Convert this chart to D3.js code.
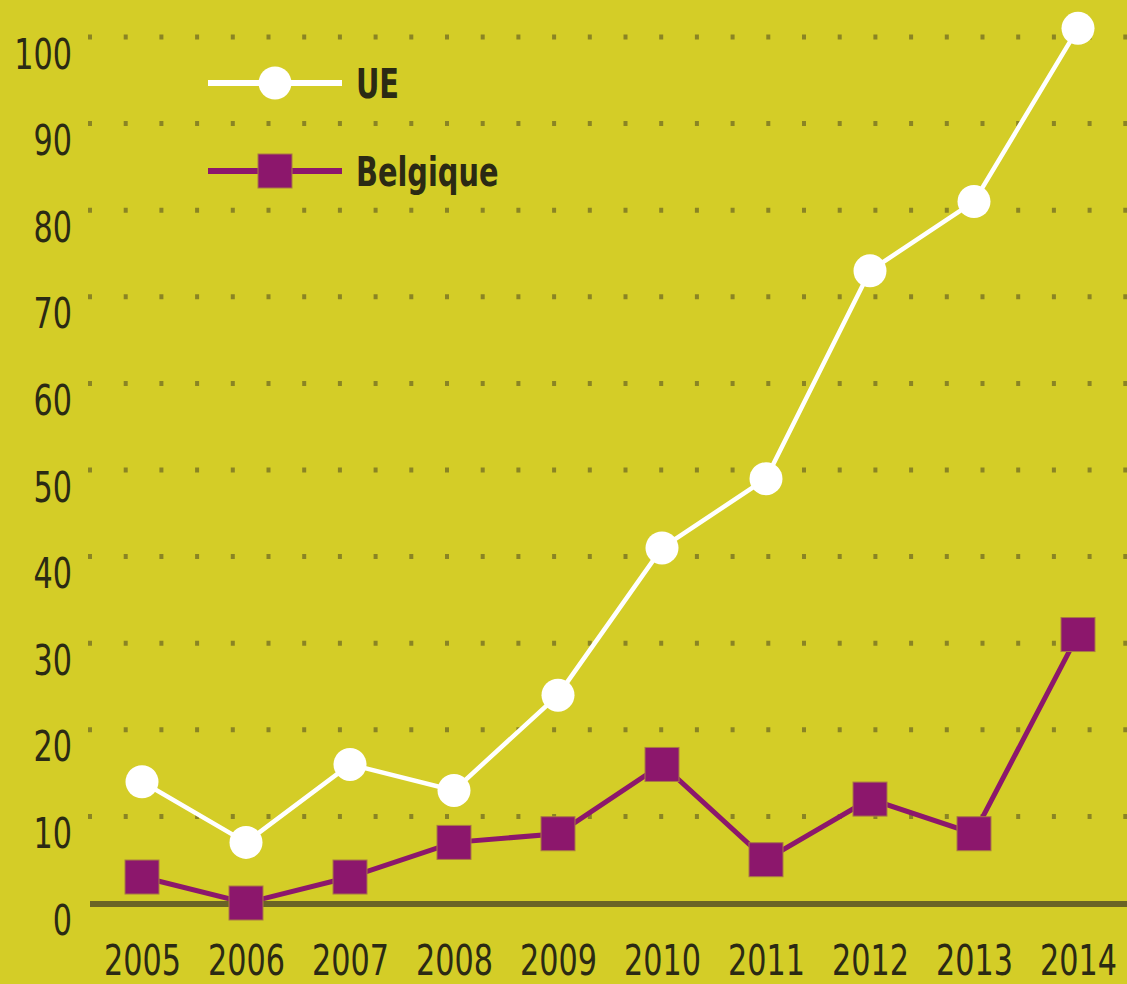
<!DOCTYPE html>
<html>
<head>
<meta charset="utf-8">
<script src="https://cdn.jsdelivr.net/npm/d3@7"></script>
<style>
  html, body { margin: 0; padding: 0; background: #d4cd27; }
  svg { display: block; }
  text { font-family: "Liberation Sans Narrow", "DejaVu Sans Condensed", "Roboto", sans-serif; fill: #2b2a14; }
</style>
</head>
<body>
<div id="chart-area"></div>
<script>
const years = [2005, 2006, 2007, 2008, 2009, 2010, 2011, 2012, 2013, 2014]
const ueValues = [14, 7, 16, 13, 24, 41, 49, 73, 81, 101]
const belgiqueValues = [3, 0, 3, 7, 8, 16, 5, 12, 8, 31]
const yTicks = [0, 10, 20, 30, 40, 50, 60, 70, 80, 90, 100]
const seriesNames = ["UE", "Belgique"]

function drawChart() {
    const svgWidth = 1127
    const svgHeight = 984
    const bg = "#d4cd27"
    const purple = "#8c176c"
    const squeeze = "scale(0.8,1)"   // condensed look of the original type

    const svg = d3.select("#chart-area")
      .append("svg")
      .attr("width", svgWidth)
      .attr("height", svgHeight)

    svg.append("rect")
        .attr("width", svgWidth)
        .attr("height", svgHeight)
        .attr("fill", bg)

    const xScale = d3.scaleLinear()
        .domain([2005, 2014])
        .range([142, 1078])

    const yScale = d3.scaleLinear()
        .domain([0, 100])
        .range([903, 37])

    // dotted gridlines
    svg.append("g")
      .selectAll("line")
      .data(yTicks.filter(d => d > 0))
      .join("line")
        .attr("x1", 88)
        .attr("x2", svgWidth)
        .attr("y1", d => yScale(d))
        .attr("y2", d => yScale(d))
        .attr("stroke", "#8a8424")
        .attr("stroke-width", 5)
        .attr("stroke-dasharray", "4 31.7")

    // zero line
    svg.append("line")
        .attr("x1", 90)
        .attr("x2", svgWidth)
        .attr("y1", yScale(0) + 1)
        .attr("y2", yScale(0) + 1)
        .attr("stroke", "#6a6325")
        .attr("stroke-width", 6)

    // y axis labels
    const yAxis = svg.append("g")
        .attr("transform", "translate(72,0)")
        .call(d3.axisLeft(yScale).tickValues(yTicks).tickSize(0).tickPadding(0))
    yAxis.select(".domain").remove()
    yAxis.selectAll("text")
        .attr("dy", "31")
        .attr("font-size", 42)
        .attr("font-family", null)
        .attr("fill", "#2b2a14")
        .attr("transform", squeeze)

    // x axis labels
    const xAxis = svg.append("g")
        .attr("transform", "translate(0,946)")
        .call(d3.axisBottom(xScale).tickValues(years).tickFormat(d3.format("d")).tickSize(0).tickPadding(0))
    xAxis.select(".domain").remove()
    xAxis.selectAll("text")
        .attr("dy", "29")
        .attr("y", 0)
        .attr("font-size", 42)
        .attr("font-family", null)
        .attr("fill", "#2b2a14")
        .attr("transform", squeeze)

    const lineGenerator = d3.line()
        .x((d, i) => xScale(years[i]))
        .y(d => yScale(d))

    // Belgique
    svg.append("path")
        .attr("d", lineGenerator(belgiqueValues))
        .attr("fill", "none")
        .attr("stroke", purple)
        .attr("stroke-width", 5)

    svg.append("g")
      .selectAll("rect")
      .data(belgiqueValues)
      .join("rect")
        .attr("x", (d, i) => xScale(years[i]) - 17)
        .attr("y", d => yScale(d) - 17)
        .attr("width", 34)
        .attr("height", 34)
        .attr("fill", purple)
        .attr("stroke", "#a97a45")
        .attr("stroke-width", 1)

    // UE
    svg.append("path")
        .attr("d", lineGenerator(ueValues))
        .attr("fill", "none")
        .attr("stroke", "white")
        .attr("stroke-width", 4.5)

    svg.append("g")
      .selectAll("circle")
      .data(ueValues)
      .join("circle")
        .attr("cx", (d, i) => xScale(years[i]))
        .attr("cy", d => yScale(d))
        .attr("r", 16.5)
        .attr("fill", "white")

    // legend
    const legend = svg.append("g")
    const legendY = [83, 171]

    legend.append("line")
        .attr("x1", 208).attr("x2", 342)
        .attr("y1", legendY[0]).attr("y2", legendY[0])
        .attr("stroke", "white").attr("stroke-width", 6)
    legend.append("circle")
        .attr("cx", 275).attr("cy", legendY[0]).attr("r", 16.5)
        .attr("fill", "white")

    legend.append("line")
        .attr("x1", 208).attr("x2", 342)
        .attr("y1", legendY[1]).attr("y2", legendY[1])
        .attr("stroke", purple).attr("stroke-width", 6)
    legend.append("rect")
        .attr("x", 258).attr("y", legendY[1] - 17)
        .attr("width", 34).attr("height", 34)
        .attr("fill", purple)
        .attr("stroke", "#a97a45").attr("stroke-width", 1)

    legend.selectAll("g.item")
      .data(seriesNames)
      .join("g")
        .attr("class", "item")
        .attr("transform", (d, i) => `translate(356,${legendY[i] + 15})`)
      .append("text")
        .attr("font-size", 40)
        .attr("font-weight", "bold")
        .attr("transform", squeeze)
        .text(d => d)
}

drawChart()
</script>
</body>
</html>
